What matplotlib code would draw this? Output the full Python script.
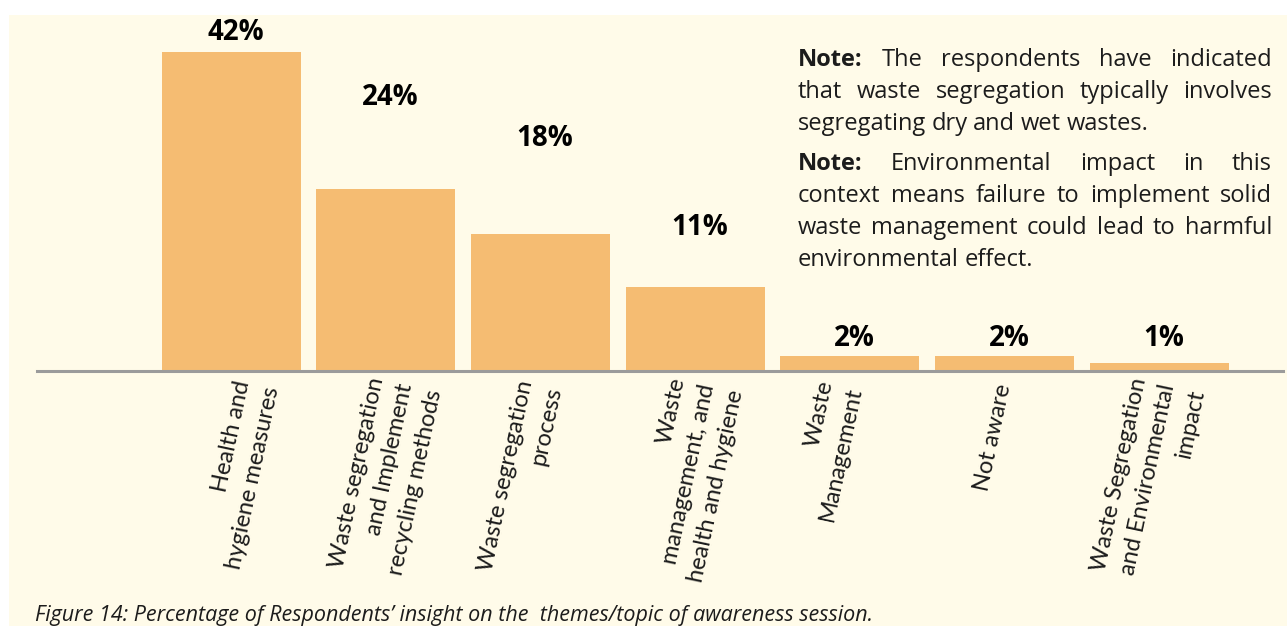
import matplotlib
matplotlib.use("Agg")
import matplotlib.pyplot as plt
from matplotlib.transforms import IdentityTransform

# Awareness-session themes and share of respondents (%)
themes = [
    "Health and\nhygiene measures",
    "Waste segregation\nand Implement\nrecycling methods",
    "Waste segregation\nprocess",
    "Waste\nmanagement, and\nhealth and hygiene",
    "Waste\nManagement",
    "Not aware",
    "Waste Segregation\nand Environmental\nimpact",
]
shares = [42, 24, 18, 11, 2, 2, 1]
share_labels = ["42%", "24%", "18%", "11%", "2%", "2%", "1%"]

notes = [
    ["Note:", "The", "respondents", "have", "indicated"],
    ["that", "waste", "segregation", "typically", "involves"],
    ["segregating", "dry", "and", "wet", "wastes."],
    ["Note:", "Environmental", "impact", "in", "this"],
    ["context", "means", "failure", "to", "implement", "solid"],
    ["waste", "management", "could", "lead", "to", "harmful"],
    ["environmental", "effect."],
]
caption = "Figure 14: Percentage of Respondents\u2019 insight on the  themes/topic of awareness session."

cream = "#FFFBE9"
bar_color = "#F5BC72"
ink = "#1c1c1c"
W, H = 1287, 626

plt.rcParams["font.family"] = ["Open Sans", "DejaVu Sans"]

fig = plt.figure(figsize=(W / 100, H / 100), dpi=100)
fig.patch.set_facecolor("white")
fig.patches.append(plt.Rectangle((9 / W, 0), 1 - 9 / W, 1 - 15 / H,
                                 transform=fig.transFigure, facecolor=cream,
                                 edgecolor="none", zorder=-5))

# axes spans the baseline rule; 7.6 px per percent
ax_h = 46 * 7.6
ax = fig.add_axes([37 / W, (H - 371) / H, (1283 - 37) / W, ax_h / H])
ax.set_facecolor("none")
x = list(range(len(shares)))
ax.bar(x, shares, width=0.9, color=bar_color, zorder=2)
ax.set_xlim(-1.255, 6.8)
ax.set_ylim(0, 46)
for s in ["top", "right", "left"]:
    ax.spines[s].set_visible(False)
ax.spines["bottom"].set_color("#9B9B9B")
ax.spines["bottom"].set_linewidth(2.2)
ax.set_yticks([])
ax.set_xticks([])

# slanted category labels, right-aligned lines, nudged sideways per bar
label_dx = [0.17, 0.13, 0.0, 0.08, -0.06, 0.0, 0.06]
for xi, d, lab in zip(x, label_dx, themes):
    ax.text(xi + d, -13 / ax_h, lab, transform=ax.get_xaxis_transform(),
            rotation=78, rotation_mode="anchor", ha="right", va="center",
            multialignment="right", fontsize=17, family=["Lato", "Open Sans"],
            color=ink, linespacing=1.5, clip_on=False)

# value labels sit at varying heights above the bars
label_y = [44.5, 36.0, 30.6, 18.9, 4.3, 4.3, 4.3]
for xi, ly, lab in zip(x, label_y, share_labels):
    ax.text(xi + 0.03, ly, lab, ha="center", va="center", fontsize=20,
            fontweight="bold", color="black")

# justified note block, laid out word by word in pixel coordinates
renderer = fig.canvas.get_renderer()
x0, x1 = 798, 1272
baselines = [66, 98, 130, 170, 202, 234, 266]
last_lines = {2, 6}
for i, (words, yb) in enumerate(zip(notes, baselines)):
    items = []
    for w in words:
        bold = w == "Note:"
        t = fig.text(0, 0, w, fontsize=17, color=ink, transform=IdentityTransform(),
                     fontweight="bold" if bold else "normal", va="baseline")
        items.append((t, t.get_window_extent(renderer).width))
    total = sum(wd for _, wd in items)
    if i in last_lines:
        gap = 5.5
    else:
        gap = (x1 - x0 - total) / (len(items) - 1)
    xp = x0
    for t, wd in items:
        t.set_position((xp, H - yb))
        xp += wd + gap

fig.text(35 / W, (H - 621) / H, caption, fontsize=15.5, style="italic",
         color=ink, va="baseline")

fig.savefig("out.png", dpi=100, facecolor="white")
